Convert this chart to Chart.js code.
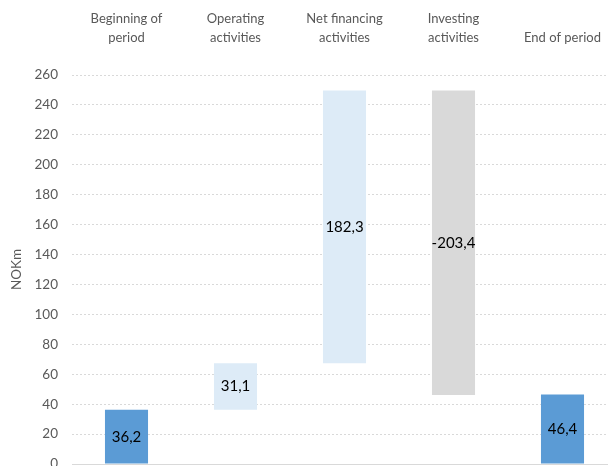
<!DOCTYPE html>
<html>
<head>
<meta charset="utf-8">
<script src="https://cdn.jsdelivr.net/npm/chart.js@4/dist/chart.umd.min.js"></script>
<style>
  html, body { margin: 0; padding: 0; background: #fff; overflow: hidden; width: 608px; height: 466px; }
  canvas { position: absolute; left: 0; top: 0; }
</style>
</head>
<body>
<canvas id="waterfall" width="630" height="466"></canvas>
<script>
// cash flow waterfall, NOKm
const categories = [
  ['Beginning of', 'period'],
  ['Operating', 'activities'],
  ['Net financing', 'activities'],
  ['Investing', 'activities'],
  'End of period'
]
const changes = [36.2, 31.1, 182.3, -203.4, 46.4]
const isTotal = [true, false, false, false, true]
const yTicks = { min: 0, max: 260, step: 20 }

const colors = ['#5B9BD5', '#DDEBF7', '#DDEBF7', '#D9D9D9', '#5B9BD5']

// floating bars: [from, to]
let running = 0
const ranges = changes.map((v, i) => {
  if (isTotal[i]) {
    running = v
    return [0, v]
  }
  let from = running
  running = running + v
  return [from, running]
})

const fmt = v => v.toFixed(1).replace('.', ',')

const valueLabels = {
  id: 'valueLabels',
  afterDatasetsDraw(chart) {
    let ctx = chart.ctx
    let meta = chart.getDatasetMeta(0)
    ctx.save()
    ctx.font = '15px Lato'
    ctx.fillStyle = '#000'
    ctx.textAlign = 'center'
    ctx.textBaseline = 'middle'
    meta.data.forEach((bar, i) => {
      let mid = (bar.y + bar.base) / 2
      ctx.fillText(fmt(changes[i]), bar.x, mid)
    })
    ctx.restore()
  }
}

// solid line along zero
const zeroLine = {
  id: 'zeroLine',
  beforeDatasetsDraw(chart) {
    let ctx = chart.ctx
    let y = Math.round(chart.scales.y.getPixelForValue(0)) + 0.5
    ctx.save()
    ctx.strokeStyle = '#D9D9D9'
    ctx.lineWidth = 1
    ctx.beginPath()
    ctx.moveTo(chart.chartArea.left, y)
    ctx.lineTo(chart.chartArea.right, y)
    ctx.stroke()
    ctx.restore()
  }
}

let chartEle = document.getElementById('waterfall').getContext('2d')
let chart = new Chart(chartEle, {
  type: 'bar',
  data: {
    labels: categories,
    datasets: [
      {
        data: ranges,
        backgroundColor: colors,
        borderSkipped: false,
        barPercentage: 0.395,
        categoryPercentage: 1
      }
    ]
  },
  options: {
    responsive: false,
    animation: false,
    layout: { padding: { left: 9, right: 13, top: 0, bottom: 2 } },
    plugins: {
      legend: { display: false },
      tooltip: { enabled: false }
    },
    scales: {
      x: {
        position: 'top',
        grid: { display: false, drawTicks: false },
        border: { display: false },
        ticks: {
          color: '#595959',
          font: { family: 'Lato', size: 13, lineHeight: 1.5 },
          padding: 27,
          maxRotation: 0,
          autoSkip: false
        },
        afterFit(scale) { scale.height = 75 }
      },
      y: {
        min: yTicks.min,
        max: yTicks.max,
        grid: { color: '#D9D9D9', drawTicks: false },
        border: { display: false, dash: [2, 2] },
        ticks: {
          stepSize: yTicks.step,
          color: '#595959',
          font: { family: 'Lato', size: 13.5 },
          padding: 14
        },
        title: {
          display: true,
          text: 'NOKm',
          color: '#595959',
          font: { family: 'Lato', size: 13.5 },
          padding: 0
        },
        afterFit(scale) {
          scale.width = 63
          // let the plot run down to the bottom edge, the 0 label gets clipped
          scale.paddingTop = 0
          scale.paddingBottom = 0
        }
      }
    }
  },
  plugins: [zeroLine, valueLabels]
})
</script>
</body>
</html>
